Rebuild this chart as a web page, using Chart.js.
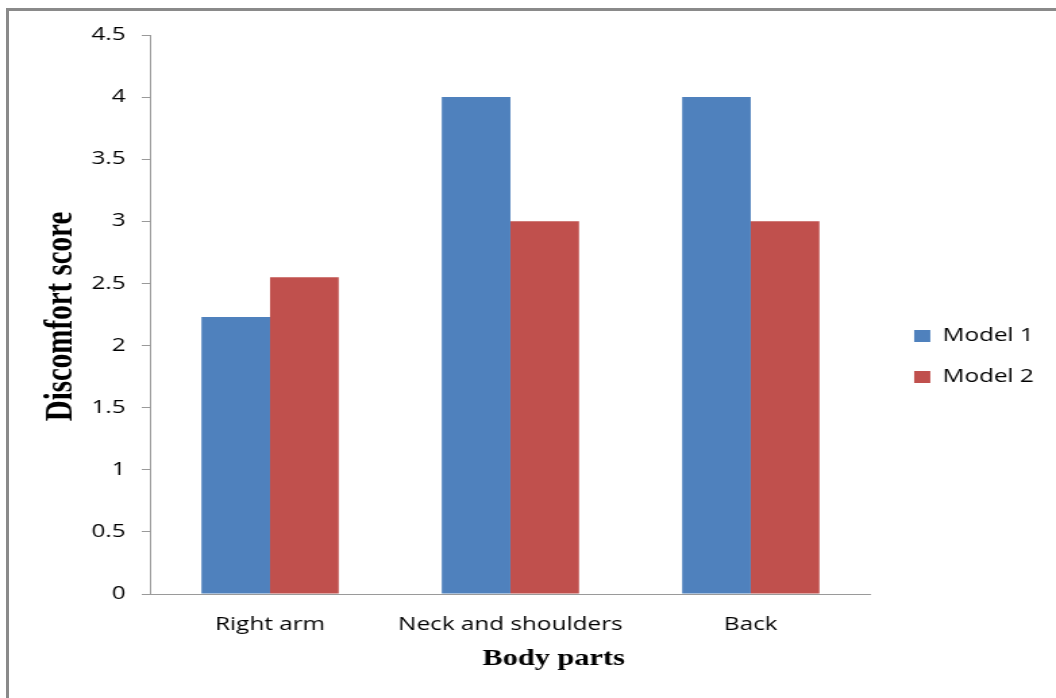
<!DOCTYPE html>
<html>
<head>
<meta charset="utf-8">
<script src="https://cdn.jsdelivr.net/npm/chart.js@4"></script>
<style>
  html, body { margin: 0; padding: 0; background: #fff; overflow: hidden; }
  #frame {
    position: absolute; left: 6px; top: 8px; width: 1200px; height: 800px;
    border-left: 3px solid #8a8a8a; border-top: 3px solid #8a8a8a;
  }
  #c { position: absolute; left: 0; top: 0; }
</style>
</head>
<body>
<div id="frame"></div>
<!-- the chart is drawn on a narrower canvas and stretched to the page width -->
<canvas id="c" width="782" height="698" style="width:1056px;height:698px"></canvas>
<script>
const categories = ['Right arm', 'Neck and shoulders', 'Back'];
const seriesNames = ['Model 1', 'Model 2'];
const model1 = [2.23, 4, 4];
const model2 = [2.55, 3, 3];
const xTitle = 'Body parts';
const yTitle = 'Discomfort score';

const labelFont = { family: '"Open Sans", sans-serif', size: 18 };
const axisGray = '#9a9a9a';

// Serif bold axis titles
const axisTitles = {
  id: 'axisTitles',
  afterDraw(chart) {
    const { ctx } = chart;
    ctx.save();
    ctx.fillStyle = '#000';
    ctx.textAlign = 'center';
    ctx.textBaseline = 'alphabetic';
    ctx.font = 'bold 22.5px "Liberation Serif", serif';
    ctx.fillText(xTitle, 410, 665);
    ctx.translate(53, 316.5);
    ctx.rotate(-Math.PI / 2);
    ctx.font = 'bold 29px "Liberation Serif", serif';
    ctx.fillText(yTitle, 0, 0);
    ctx.restore();
  }
};

// move the legend a little away from the plot
const legendNudge = {
  id: 'legendNudge',
  afterLayout(chart) {
    const lg = chart.legend;
    if (lg) { lg.left += 9; lg.right += 9; }
  }
};

new Chart(document.getElementById('c'), {
  type: 'bar',
  data: {
    labels: categories,
    datasets: [
      { label: seriesNames[0], data: model1, backgroundColor: '#4f81bd' },
      { label: seriesNames[1], data: model2, backgroundColor: '#c0504d' }
    ]
  },
  options: {
    responsive: false,
    animation: false,
    devicePixelRatio: 1,
    datasets: { bar: { categoryPercentage: 0.571, barPercentage: 1 } },
    layout: { padding: { left: 0, top: 35, right: 15.4, bottom: 20 } },
    plugins: {
      tooltip: { enabled: false },
      legend: {
        position: 'right',
        align: 'center',
        labels: {
          boxWidth: 12, boxHeight: 12, padding: 23,
          color: '#000', font: labelFont
        }
      }
    },
    scales: {
      x: {
        grid: { display: false },
        border: { color: axisGray, width: 1 },
        ticks: { color: '#000', font: labelFont, padding: 12, maxRotation: 0 },
        afterFit(scale) { scale.height = 84; }
      },
      y: {
        min: 0, max: 4.5,
        ticks: {
          stepSize: 0.5, color: '#000', font: labelFont, padding: 12,
          callback: (v) => String(Math.round(v * 10) / 10)
        },
        grid: { drawOnChartArea: false, tickLength: 6, color: axisGray },
        border: { color: axisGray, width: 1 },
        afterFit(scale) { scale.width = 111; }
      }
    }
  },
  plugins: [axisTitles, legendNudge]
});
</script>
</body>
</html>
